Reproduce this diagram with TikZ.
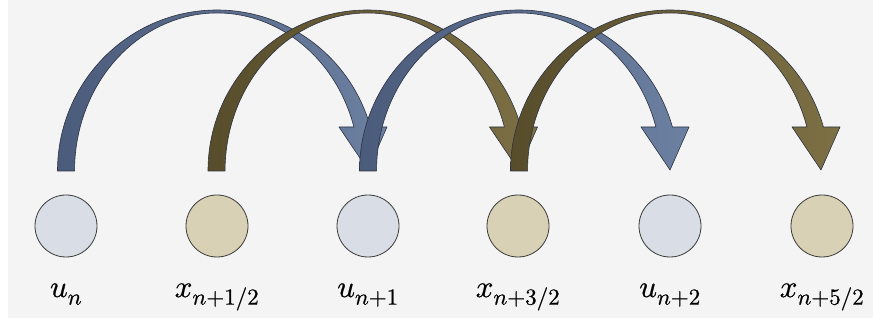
\documentclass[tikz,border=0pt]{standalone}
\usepackage{unicode-math}
\setmathfont{Latin Modern Math}[FakeBold=0.6]
\DeclareMathSizes{31}{31}{23}{18}
\usetikzlibrary{calc}

\definecolor{panel}{HTML}{F4F4F4}
\definecolor{ufill}{HTML}{D8DDE6}
\definecolor{xfill}{HTML}{D9D1B5}
\definecolor{rim}{HTML}{3A3A3A}
\definecolor{bluedark}{HTML}{4B5B7B}
\definecolor{bluelight}{HTML}{6C80A1}
\definecolor{golddark}{HTML}{584D2B}
\definecolor{goldlight}{HTML}{7D7045}
\definecolor{edge}{HTML}{2C3240}

\tikzset{
  state/.style={circle, draw=rim, line width=0.8pt, minimum size=62pt, inner sep=0pt},
  ustate/.style={state, fill=ufill},
  xstate/.style={state, fill=xfill},
  lbl/.style={anchor=base, inner sep=0pt, font=\fontsize{31}{36}\selectfont},
  jump/.style={draw=edge, line width=0.6pt, line join=round},
  bluejump/.style={jump, left color=bluedark, right color=bluelight},
  goldjump/.style={jump, left color=golddark, right color=goldlight},
}

% curved block arrow over two states; #2 is the centre of its ellipse
\newcommand\hoparrow[2]{%
  \path[#1]
    ([xshift=-159.5pt]#2) arc[start angle=180, end angle=15.86, x radius=159.5, y radius=161]
    -- ([shift={(170,44)}]#2)
    -- ([shift={(151,1)}]#2)
    -- ([shift={(122,44)}]#2)
    -- ([shift={(136.9,44)}]#2)
    arc[start angle=16.17, end angle=180, x radius=142.5, y radius=158]
    -- cycle;}

\begin{document}
\begin{tikzpicture}[x=1pt, y=1pt]
\useasboundingbox (0,0) rectangle (873,332);
\fill[panel] (8,14) rectangle (873,332);

% states
\node[ustate] (u0) at (66,106)  {};
\node[xstate] (x0) at (217,106) {};
\node[ustate] (u1) at (368,106) {};
\node[xstate] (x1) at (518,106) {};
\node[ustate] (u2) at (670,106) {};
\node[xstate] (x2) at (822,106) {};

% labels
\node[lbl] (lu0) at (66,35)  {$u_n$};
\node[lbl] (lx0) at (217,35) {$x_{n+1/2}$};
\node[lbl] (lu1) at (368,35) {$u_{n+1}$};
\node[lbl] (lx1) at (518,35) {$x_{n+3/2}$};
\node[lbl] (lu2) at (670,35) {$u_{n+2}$};
\node[lbl] (lx2) at (822,35) {$x_{n+5/2}$};

% ellipse centres of the jumps
\coordinate (c1) at ($(u0)!0.5!(u1)+(0,55)$);
\coordinate (c2) at ($(x0)!0.5!(x1)+(0,55)$);
\coordinate (c3) at ($(u1)!0.5!(u2)+(0,55)$);
\coordinate (c4) at ($(x1)!0.5!(x2)+(0,55)$);

% jumps, later ones on top
\hoparrow{bluejump}{c1}
\hoparrow{goldjump}{c2}
\hoparrow{bluejump}{c3}
\hoparrow{goldjump}{c4}
\end{tikzpicture}
\end{document}
